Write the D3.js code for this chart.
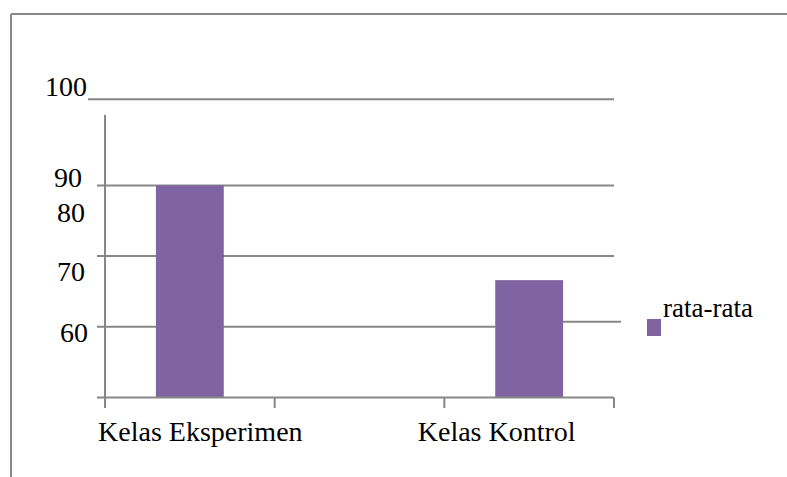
<!DOCTYPE html>
<html>
<head>
<meta charset="utf-8">
<script src="https://cdn.jsdelivr.net/npm/d3@7"></script>
<style>
  body { margin: 0; background: #fff; }
  text { font-family: "Liberation Serif", "Times New Roman", serif; fill: #000; }
</style>
</head>
<body>
<div class="chart"></div>
<script>
// data
const categories = ["Kelas Eksperimen", "", "Kelas Kontrol"];
const values = [90, null, 76.6];
const yTicks = [60, 70, 80, 90, 100];
const yLabels = ["60", "70", "80", "90", "100"];
const seriesName = "rata-rata";

const W = 787, H = 477;
const color = "#8064A2", grid = "#878787";

const svg = d3.select(".chart").append("svg")
  .attr("width", W).attr("height", H);

// frame (only top/left visible)
svg.append("line").attr("x1", 11).attr("x2", W).attr("y1", 14).attr("y2", 14)
  .attr("stroke", grid).attr("stroke-width", 2);
svg.append("line").attr("x1", 11).attr("x2", 11).attr("y1", 14).attr("y2", H)
  .attr("stroke", grid).attr("stroke-width", 2);

const x = d3.scaleBand().domain(categories.map((c, i) => i)).range([105, 614]);
const y = d3.scaleLinear().domain([60, 100]).range([397.5, 114.7]);

const barW = x.bandwidth() * 0.4;
const b2 = x(2) + (x.bandwidth() - barW) / 2;

// gridlines (the picture has them a bit shifted)
yTicks.filter(t => t > 60 && t < 100).forEach(t => {
  if (t === 70) {
    svg.append("line").attr("x1", 97).attr("x2", b2).attr("y1", y(t)).attr("y2", y(t))
      .attr("stroke", grid).attr("stroke-width", 2);
    svg.append("line").attr("x1", b2 + barW).attr("x2", 621).attr("y1", y(t) - 5).attr("y2", y(t) - 5)
      .attr("stroke", grid).attr("stroke-width", 2);
  } else {
    svg.append("line").attr("x1", 97).attr("x2", 614).attr("y1", y(t)).attr("y2", y(t))
      .attr("stroke", grid).attr("stroke-width", 2);
  }
});
// top line, drawn higher than its value
svg.append("line").attr("x1", 88).attr("x2", 614).attr("y1", y(100) - 15.5).attr("y2", y(100) - 15.5)
  .attr("stroke", grid).attr("stroke-width", 2);

// bars
svg.selectAll("rect.bar")
  .data(values.map((v, i) => ({ v, i })).filter(d => d.v != null))
  .enter().append("rect")
  .attr("class", "bar")
  .attr("x", d => x(d.i) + (x.bandwidth() - barW) / 2)
  .attr("width", barW)
  .attr("y", d => y(d.v))
  .attr("height", d => y(60) - y(d.v))
  .attr("fill", color);

// axes
svg.append("line").attr("x1", 105).attr("x2", 105).attr("y1", y(100)).attr("y2", 407)
  .attr("stroke", grid).attr("stroke-width", 2);
svg.append("line").attr("x1", 97).attr("x2", 614).attr("y1", y(60)).attr("y2", y(60))
  .attr("stroke", grid).attr("stroke-width", 2);
categories.concat([null]).forEach((c, i) => {
  const px = i < categories.length ? x(i) : x(categories.length - 1) + x.bandwidth();
  svg.append("line").attr("x1", px).attr("x2", px).attr("y1", y(60)).attr("y2", 408)
    .attr("stroke", grid).attr("stroke-width", 2);
});

// y labels - the picture has them out of place
const labelDy = { 60: -55.5, 70: -46, 80: -34, 90: 1.5, 100: -18.7 };
const labelDx = { 60: 0, 70: -3, 80: -3, 90: -6, 100: -1 };
svg.selectAll("text.ylab")
  .data(yTicks)
  .enter().append("text")
  .attr("class", "ylab")
  .attr("x", d => 88 + labelDx[d])
  .attr("y", d => y(d) + labelDy[d])
  .attr("text-anchor", "end")
  .attr("font-size", 28)
  .text((d, i) => yLabels[i]);

// x labels (not centred under the bars in the picture)
const xShift = [10.5, 0, -32.5];
svg.selectAll("text.xlab")
  .data(categories)
  .enter().append("text")
  .attr("class", "xlab")
  .attr("x", (d, i) => x(i) + x.bandwidth() / 2 + xShift[i])
  .attr("y", 441)
  .attr("text-anchor", "middle")
  .attr("font-size", 28)
  .text(d => d);

// legend
svg.append("rect").attr("x", 647).attr("y", 319).attr("width", 14).attr("height", 17)
  .attr("fill", color);
svg.append("text").attr("x", 663).attr("y", 317).attr("font-size", 27).text(seriesName);
</script>
</body>
</html>
